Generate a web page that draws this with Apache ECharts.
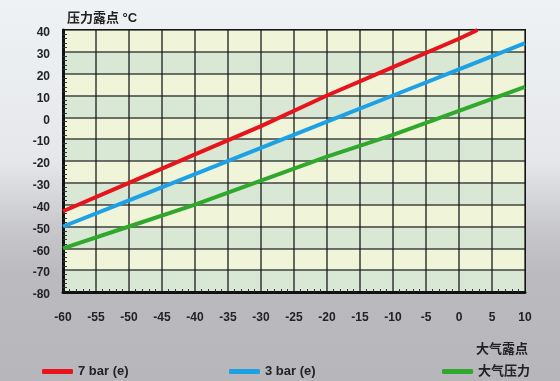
<!DOCTYPE html>
<html>
<head>
<meta charset="utf-8">
<script src="https://cdn.jsdelivr.net/npm/echarts@6/dist/echarts.min.js"></script>
<style>
html,body{margin:0;padding:0;}
#chart{width:560px;height:381px;}
</style>
</head>
<body>
<div id="chart"></div>
<script>
// Data
const titleText = '压力露点 °C';
const xAxisName = '大气露点';
const seriesNames = ['7 bar (e)', '3 bar (e)', '大气压力'];

const redX   = [-60, -50, -40, -30, -20, -10, 0, 2.8];
const redY   = [-43, -30, -17, -4, 10, 23, 36, 40];
const blueX  = [-60, -50, -40, -30, -20, -10, 0, 10];
const blueY  = [-50, -38, -26, -14, -2, 10, 22, 34];
const greenX = [-60, -50, -40, -30, -20, -10, 0, 10];
const greenY = [-60, -50, -40, -29, -18, -8, 3, 14];

const xMin = -60, xMax = 10, xStep = 5;
const yMin = -80, yMax = 40, yStep = 10;

const pairs = (xs, ys) => xs.map((x, i) => [x, ys[i]]);

const FONT = '"Liberation Sans", "Noto Sans CJK SC", Arial, sans-serif';
const TXT = '#222';

const chart = echarts.init(document.getElementById('chart'), null, {renderer: 'canvas'});

const lineColors = ['#e8141c', '#1ea1e4', '#2fa82c'];

function legendAt(name, left) {
  return {
    data: [name], left: left, top: 360,
    icon: 'roundRect', itemWidth: 31, itemHeight: 5,
    textStyle: {fontFamily: FONT, fontSize: 13, fontWeight: 'bold', color: TXT},
    selectedMode: false
  };
}

chart.setOption({
  animation: false,
  backgroundColor: {
    type: 'linear', x: 0, y: 0, x2: 0, y2: 1,
    colorStops: [
      {offset: 0, color: '#eff2f5'},
      {offset: 0.42, color: '#e5e7ea'},
      {offset: 0.6, color: '#c8c8cc'},
      {offset: 0.72, color: '#bbbabf'},
      {offset: 1, color: '#b7b6bb'}
    ]
  },
  title: [
    {text: titleText, left: 62, top: 7,
     textStyle: {fontFamily: FONT, fontSize: 13, fontWeight: 'bold', color: TXT}},
    {text: xAxisName, right: 27, top: 338,
     textStyle: {fontFamily: FONT, fontSize: 13, fontWeight: 'bold', color: TXT}}
  ],
  legend: [
    legendAt(seriesNames[0], 37),
    legendAt(seriesNames[1], 224),
    legendAt(seriesNames[2], 437)
  ],
  grid: {
    left: 63, right: 35, top: 30, bottom: 89,
    show: true, borderColor: '#111', borderWidth: 2, backgroundColor: 'transparent'
  },
  xAxis: {
    type: 'value', min: xMin, max: xMax, interval: xStep,
    axisLine: {show: true, onZero: false, lineStyle: {color: '#111', width: 3}},
    axisTick: {show: false, inside: true},
    minorTick: {show: true, splitNumber: 5, length: 3, lineStyle: {color: '#333', width: 1}},
    axisLabel: {margin: 20, fontFamily: FONT, fontSize: 12, fontWeight: 'bold', color: TXT},
    splitLine: {show: true, lineStyle: {color: 'rgba(25,25,25,0.8)', width: 1.6}}
  },
  yAxis: {
    type: 'value', min: yMin, max: yMax, interval: yStep,
    axisLine: {show: true, onZero: false, lineStyle: {color: '#111', width: 3}},
    axisTick: {show: false, inside: true},
    minorTick: {show: true, splitNumber: 5, length: 4, lineStyle: {color: '#333', width: 1}},
    axisLabel: {margin: 13, fontFamily: FONT, fontSize: 12, fontWeight: 'bold', color: TXT,
                verticalAlign: 'top', lineHeight: 6},
    splitLine: {show: true, lineStyle: {color: 'rgba(25,25,25,0.8)', width: 1.6}},
    splitArea: {show: true, areaStyle: {color: ['#d8e8d5', '#f0f4d9']}}
  },
  series: [
    {name: seriesNames[0], type: 'line', data: pairs(redX, redY), showSymbol: false,
     color: lineColors[0], lineStyle: {width: 4, color: lineColors[0]}, z: 5},
    {name: seriesNames[1], type: 'line', data: pairs(blueX, blueY), showSymbol: false,
     color: lineColors[1], lineStyle: {width: 4, color: lineColors[1]}, z: 4},
    {name: seriesNames[2], type: 'line', data: pairs(greenX, greenY), showSymbol: false,
     color: lineColors[2], lineStyle: {width: 4, color: lineColors[2]}, z: 3}
  ]
});
</script>
</body>
</html>
